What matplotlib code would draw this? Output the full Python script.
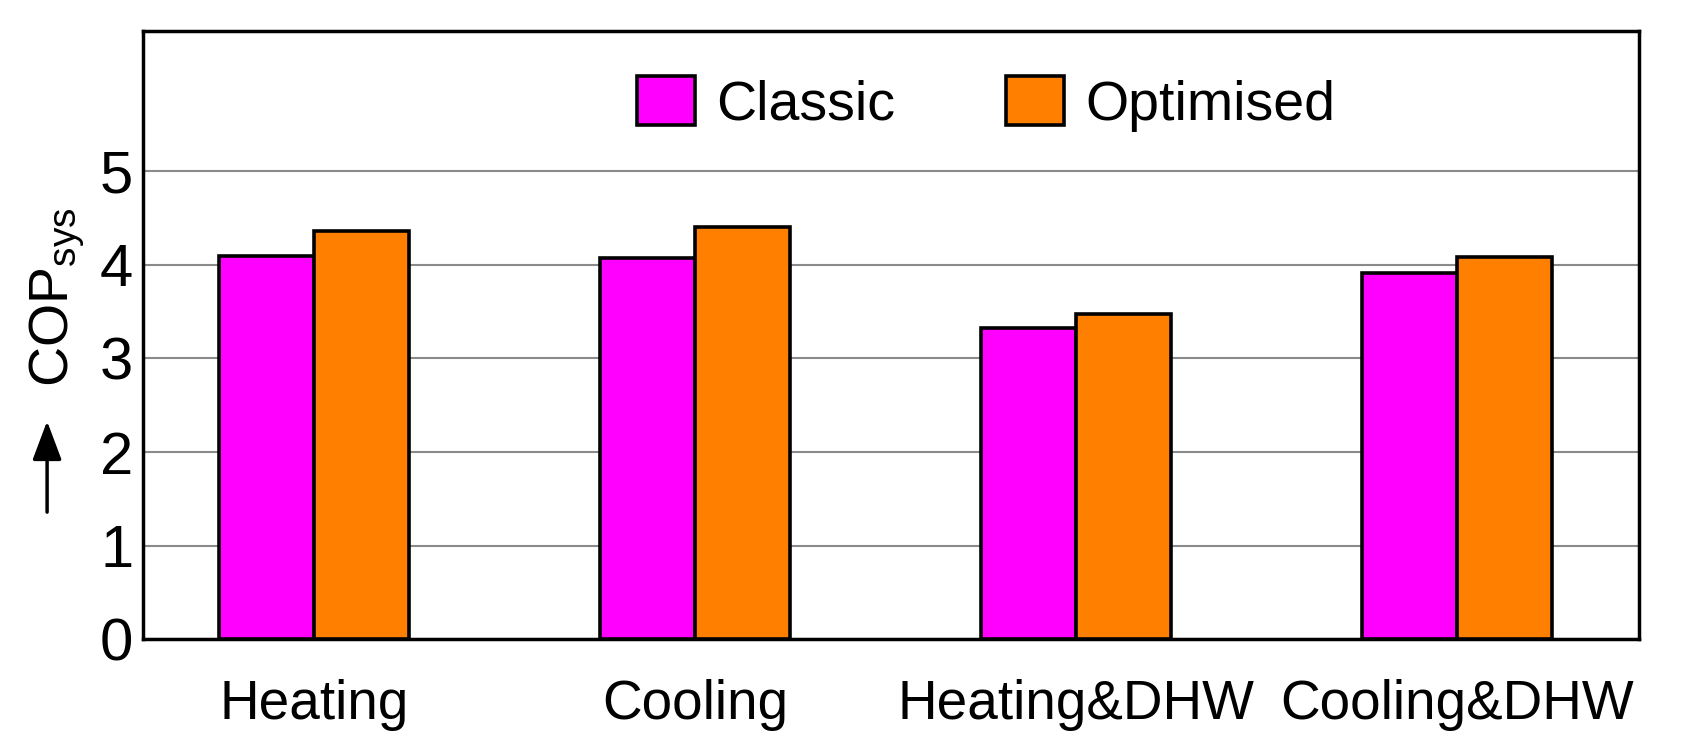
import matplotlib
matplotlib.use("Agg")
import matplotlib.pyplot as plt
import numpy as np

categories = ["Heating", "Cooling", "Heating&DHW", "Cooling&DHW"]
classic = [4.09, 4.07, 3.33, 3.91]
optimised = [4.36, 4.40, 3.47, 4.08]
series_names = ["Classic", "Optimised"]
yticks = [0, 1, 2, 3, 4, 5]

fam = "Liberation Sans"
plt.rcParams["font.family"] = [fam, "DejaVu Sans"]
plt.rcParams["mathtext.fontset"] = "custom"
plt.rcParams["mathtext.rm"] = fam
plt.rcParams["mathtext.it"] = fam

fig = plt.figure(figsize=(16.82, 7.52), dpi=100)
ax = fig.add_axes([0.085, 0.150, 0.8895, 0.809])

x = np.arange(len(categories))
w = 0.25
ax.bar(x - w / 2, classic, w, color="#FF00FF", edgecolor="black", linewidth=2.6, label=series_names[0], zorder=3)
ax.bar(x + w / 2, optimised, w, color="#FF8000", edgecolor="black", linewidth=2.6, label=series_names[1], zorder=3)

ax.set_xlim(-0.449, 3.478)
ax.set_ylim(0, 6.5)
ax.set_yticks(yticks)
ax.set_yticklabels([str(t) for t in yticks])
ax.set_xticks(x)
ax.set_xticklabels(categories)
ax.tick_params(axis="y", length=0, pad=7, labelsize=43)
ax.tick_params(axis="x", length=0, pad=29, labelsize=39.5)
ax.yaxis.grid(True, color="#8a8a8a", linewidth=1.5, zorder=0)
ax.set_axisbelow(True)
for s in ax.spines.values():
    s.set_linewidth(2.5)
    s.set_color("black")

leg = ax.legend(loc="center", bbox_to_anchor=(0.5635, 0.88), ncol=2, frameon=False,
                fontsize=40, handlelength=1.04, handleheight=0.97, handletextpad=0.38,
                columnspacing=2.0, borderpad=0, borderaxespad=0)
for p in leg.get_patches():
    p.set_linewidth(2.6)

fig.text(0.034, 0.605, r"COP$_{\mathrm{sys}}$", rotation=90, fontsize=40, ha="center", va="center")
fig.add_artist(matplotlib.patches.FancyArrowPatch((0.028, 0.319), (0.028, 0.44),
               transform=fig.transFigure, arrowstyle="-|>,head_length=1.2,head_width=0.45",
               mutation_scale=20, color="black", linewidth=2.5, shrinkA=0, shrinkB=0))

fig.savefig("out.png", dpi=100)
